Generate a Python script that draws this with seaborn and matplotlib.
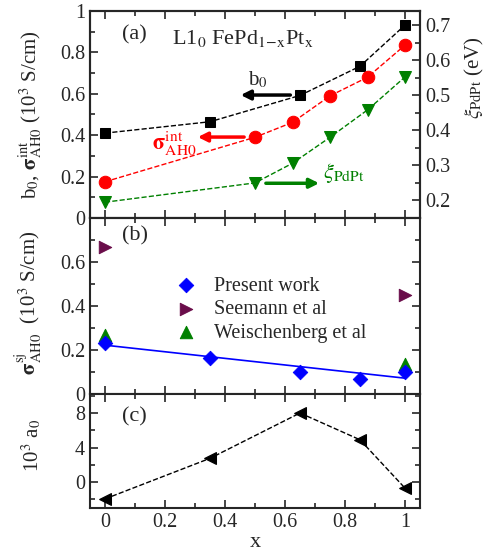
import matplotlib
matplotlib.use("Agg")
import matplotlib.pyplot as plt
from matplotlib.ticker import MultipleLocator
import seaborn as sns

# panel (a)
x_b0 = [0, 0.35, 0.65, 0.85, 1.0]
b0 = [0.41, 0.465, 0.592, 0.733, 0.932]
x_int = [0, 0.5, 0.625, 0.75, 0.875, 1.0]
sigma_int = [0.175, 0.39, 0.462, 0.59, 0.68, 0.835]
xi_pdpt = [0.195, 0.25, 0.306, 0.38, 0.458, 0.552]

# panel (b)
x_sj = [0, 0.35, 0.65, 0.85, 1.0]
sigma_sj = [0.23, 0.165, 0.10, 0.068, 0.10]
fit_x = [0, 1.0]
fit_y = [0.222, 0.072]
x_lit = [0, 1.0]
seemann = [0.668, 0.45]
weischenberg = [0.268, 0.135]

# panel (c)
x_a0 = [0, 0.35, 0.65, 0.85, 1.0]
a0 = [-1.95, 2.75, 8.0, 4.9, -0.7]

sns.set_style("ticks")
plt.rcParams["font.family"] = ["Liberation Serif", "DejaVu Serif"]
plt.rcParams["mathtext.fontset"] = "stix"
plt.rcParams["xtick.direction"] = "in"
plt.rcParams["ytick.direction"] = "in"
plt.rcParams["axes.linewidth"] = 1.5

fig = plt.figure(figsize=(5, 5.53), dpi=100)
L, W = 0.18, 0.66
ax_a = fig.add_axes([L, 0.6058, W, 0.3743])
ax_b = fig.add_axes([L, 0.2875, W, 0.3183])
ax_c = fig.add_axes([L, 0.0814, W, 0.2061])

fs_tick = 14.5
fs_lab = 15

def style(ax, right=True):
    ax.set_xlim(-0.05, 1.05)
    ax.xaxis.set_major_locator(MultipleLocator(0.2))
    ax.xaxis.set_minor_locator(MultipleLocator(0.1))
    ax.tick_params(which="both", top=True, right=right, labelsize=fs_tick)
    ax.tick_params(which="major", length=6, width=1.2)
    ax.tick_params(which="minor", length=3.5, width=1.2)
    for s in ax.spines.values():
        s.set_visible(True)

# ---- (a)
sns.lineplot(x=x_b0, y=b0, ax=ax_a, color="black", marker="s", markersize=7,
             markeredgecolor="black", linestyle="--", linewidth=1)
sns.lineplot(x=x_int, y=sigma_int, ax=ax_a, color="red", marker="o", markersize=9,
             markeredgecolor="red", linestyle="--", linewidth=1)
ax_a.set_ylim(0, 1)
ax_a.yaxis.set_minor_locator(MultipleLocator(0.1))
ax_a.set_yticks([0, 0.2, 0.4, 0.6, 0.8, 1.0], ["0", "0.2", "0.4", "0.6", "0.8", "1"])
style(ax_a, right=False)
ax_a.tick_params(labelbottom=False)
ax_a.set_ylabel(r"b$_0$, $\mathbf{\sigma}^{\rm int}_{\rm AH0}$ (10$^3$ S/cm)", fontsize=fs_lab)
ax_a.yaxis.set_label_coords(-0.14, 0.5)

ax_r = ax_a.twinx()
sns.lineplot(x=x_int, y=xi_pdpt, ax=ax_r, color="green", marker="v", markersize=9,
             markeredgecolor="green", linestyle="--", linewidth=1)
ax_r.set_ylim(0.15, 0.74)
ax_r.yaxis.set_major_locator(MultipleLocator(0.1))
ax_r.yaxis.set_minor_locator(MultipleLocator(0.05))
ax_r.tick_params(which="both", labelsize=fs_tick, direction="in")
ax_r.tick_params(which="major", length=6, width=1.2)
ax_r.tick_params(which="minor", length=3.5, width=1.2)
ax_r.set_ylabel(r"$\xi_{\rm PdPt}$ (eV)", fontsize=fs_lab)
ax_r.yaxis.set_label_coords(1.13, 0.68)

ax_a.text(0.097, 0.885, "(a)", transform=ax_a.transAxes, fontsize=16, va="center")
ax_a.text(0.248, 0.865, r"L1$_{\rm 0}$ FePd$_{\rm 1\!-\!x}$Pt$_{\rm x}$",
          transform=ax_a.transAxes, fontsize=16, va="center")

arrow = dict(arrowstyle="-|>", lw=2.5, mutation_scale=14)
ax_a.annotate("", xy=(0.443, 0.594), xytext=(0.627, 0.594),
              arrowprops=dict(arrow, color="black"))
ax_a.text(0.51, 0.667, r"b$_{\rm 0}$", fontsize=15, ha="center", va="center")
ax_a.annotate("", xy=(0.30, 0.391), xytext=(0.473, 0.391),
              arrowprops=dict(arrow, color="red"))
ax_a.text(0.233, 0.36, r"$\mathbf{\sigma}^{\rm int}_{\rm AH0}$", fontsize=16,
          color="red", ha="center", va="center")
ax_r.annotate("", xy=(0.723, 0.249), xytext=(0.527, 0.249),
              arrowprops=dict(arrow, color="green"))
ax_r.text(0.727, 0.277, r"$\xi_{\rm PdPt}$", fontsize=16, color="green",
          ha="left", va="center")

# ---- (b)
sns.lineplot(x=fit_x, y=fit_y, ax=ax_b, color="blue", linewidth=1.2)
sns.scatterplot(x=x_sj, y=sigma_sj, ax=ax_b, color="blue", marker="D", s=55,
                edgecolor="blue", label="Present work", zorder=3)
sns.scatterplot(x=x_lit, y=seemann, ax=ax_b, color="#6a0d4a", marker=">", s=80,
                edgecolor="#6a0d4a", label="Seemann et al", zorder=3)
sns.scatterplot(x=x_lit, y=weischenberg, ax=ax_b, color="green", marker="^", s=80,
                edgecolor="green", label="Weischenberg et al", zorder=2)
ax_b.set_ylim(0, 0.8)
ax_b.yaxis.set_minor_locator(MultipleLocator(0.1))
ax_b.set_yticks([0, 0.2, 0.4, 0.6], ["0", "0.2", "0.4", "0.6"])
style(ax_b)
ax_b.tick_params(labelbottom=False)
ax_b.set_ylabel(r"$\mathbf{\sigma}^{\rm sj}_{\rm AH0}$  (10$^3$ S/cm)", fontsize=fs_lab)
ax_b.yaxis.set_label_coords(-0.14, 0.52)
ax_b.legend(loc="center left", bbox_to_anchor=(0.2, 0.48), frameon=False,
            fontsize=14.5, handlelength=1.2, handletextpad=0.8, labelspacing=0.22)
ax_b.text(0.097, 0.90, "(b)", transform=ax_b.transAxes, fontsize=16, va="center")

# ---- (c)
sns.lineplot(x=x_a0, y=a0, ax=ax_c, color="black", marker="<", markersize=9,
             markeredgecolor="black", linestyle="--", linewidth=1)
ax_c.set_ylim(-3, 10.2)
ax_c.yaxis.set_minor_locator(MultipleLocator(2))
ax_c.set_yticks([0, 4, 8])
style(ax_c)
ax_c.set_xticks([0, 0.2, 0.4, 0.6, 0.8, 1.0], ["0", "0.2", "0.4", "0.6", "0.8", "1"])
ax_c.set_xlabel("x", fontsize=16, labelpad=1)
ax_c.set_ylabel(r"10$^3$ a$_{\rm 0}$", fontsize=fs_lab)
ax_c.yaxis.set_label_coords(-0.14, 0.55)
ax_c.text(0.097, 0.80, "(c)", transform=ax_c.transAxes, fontsize=16, va="center")

fig.savefig("out.png", dpi=100)
